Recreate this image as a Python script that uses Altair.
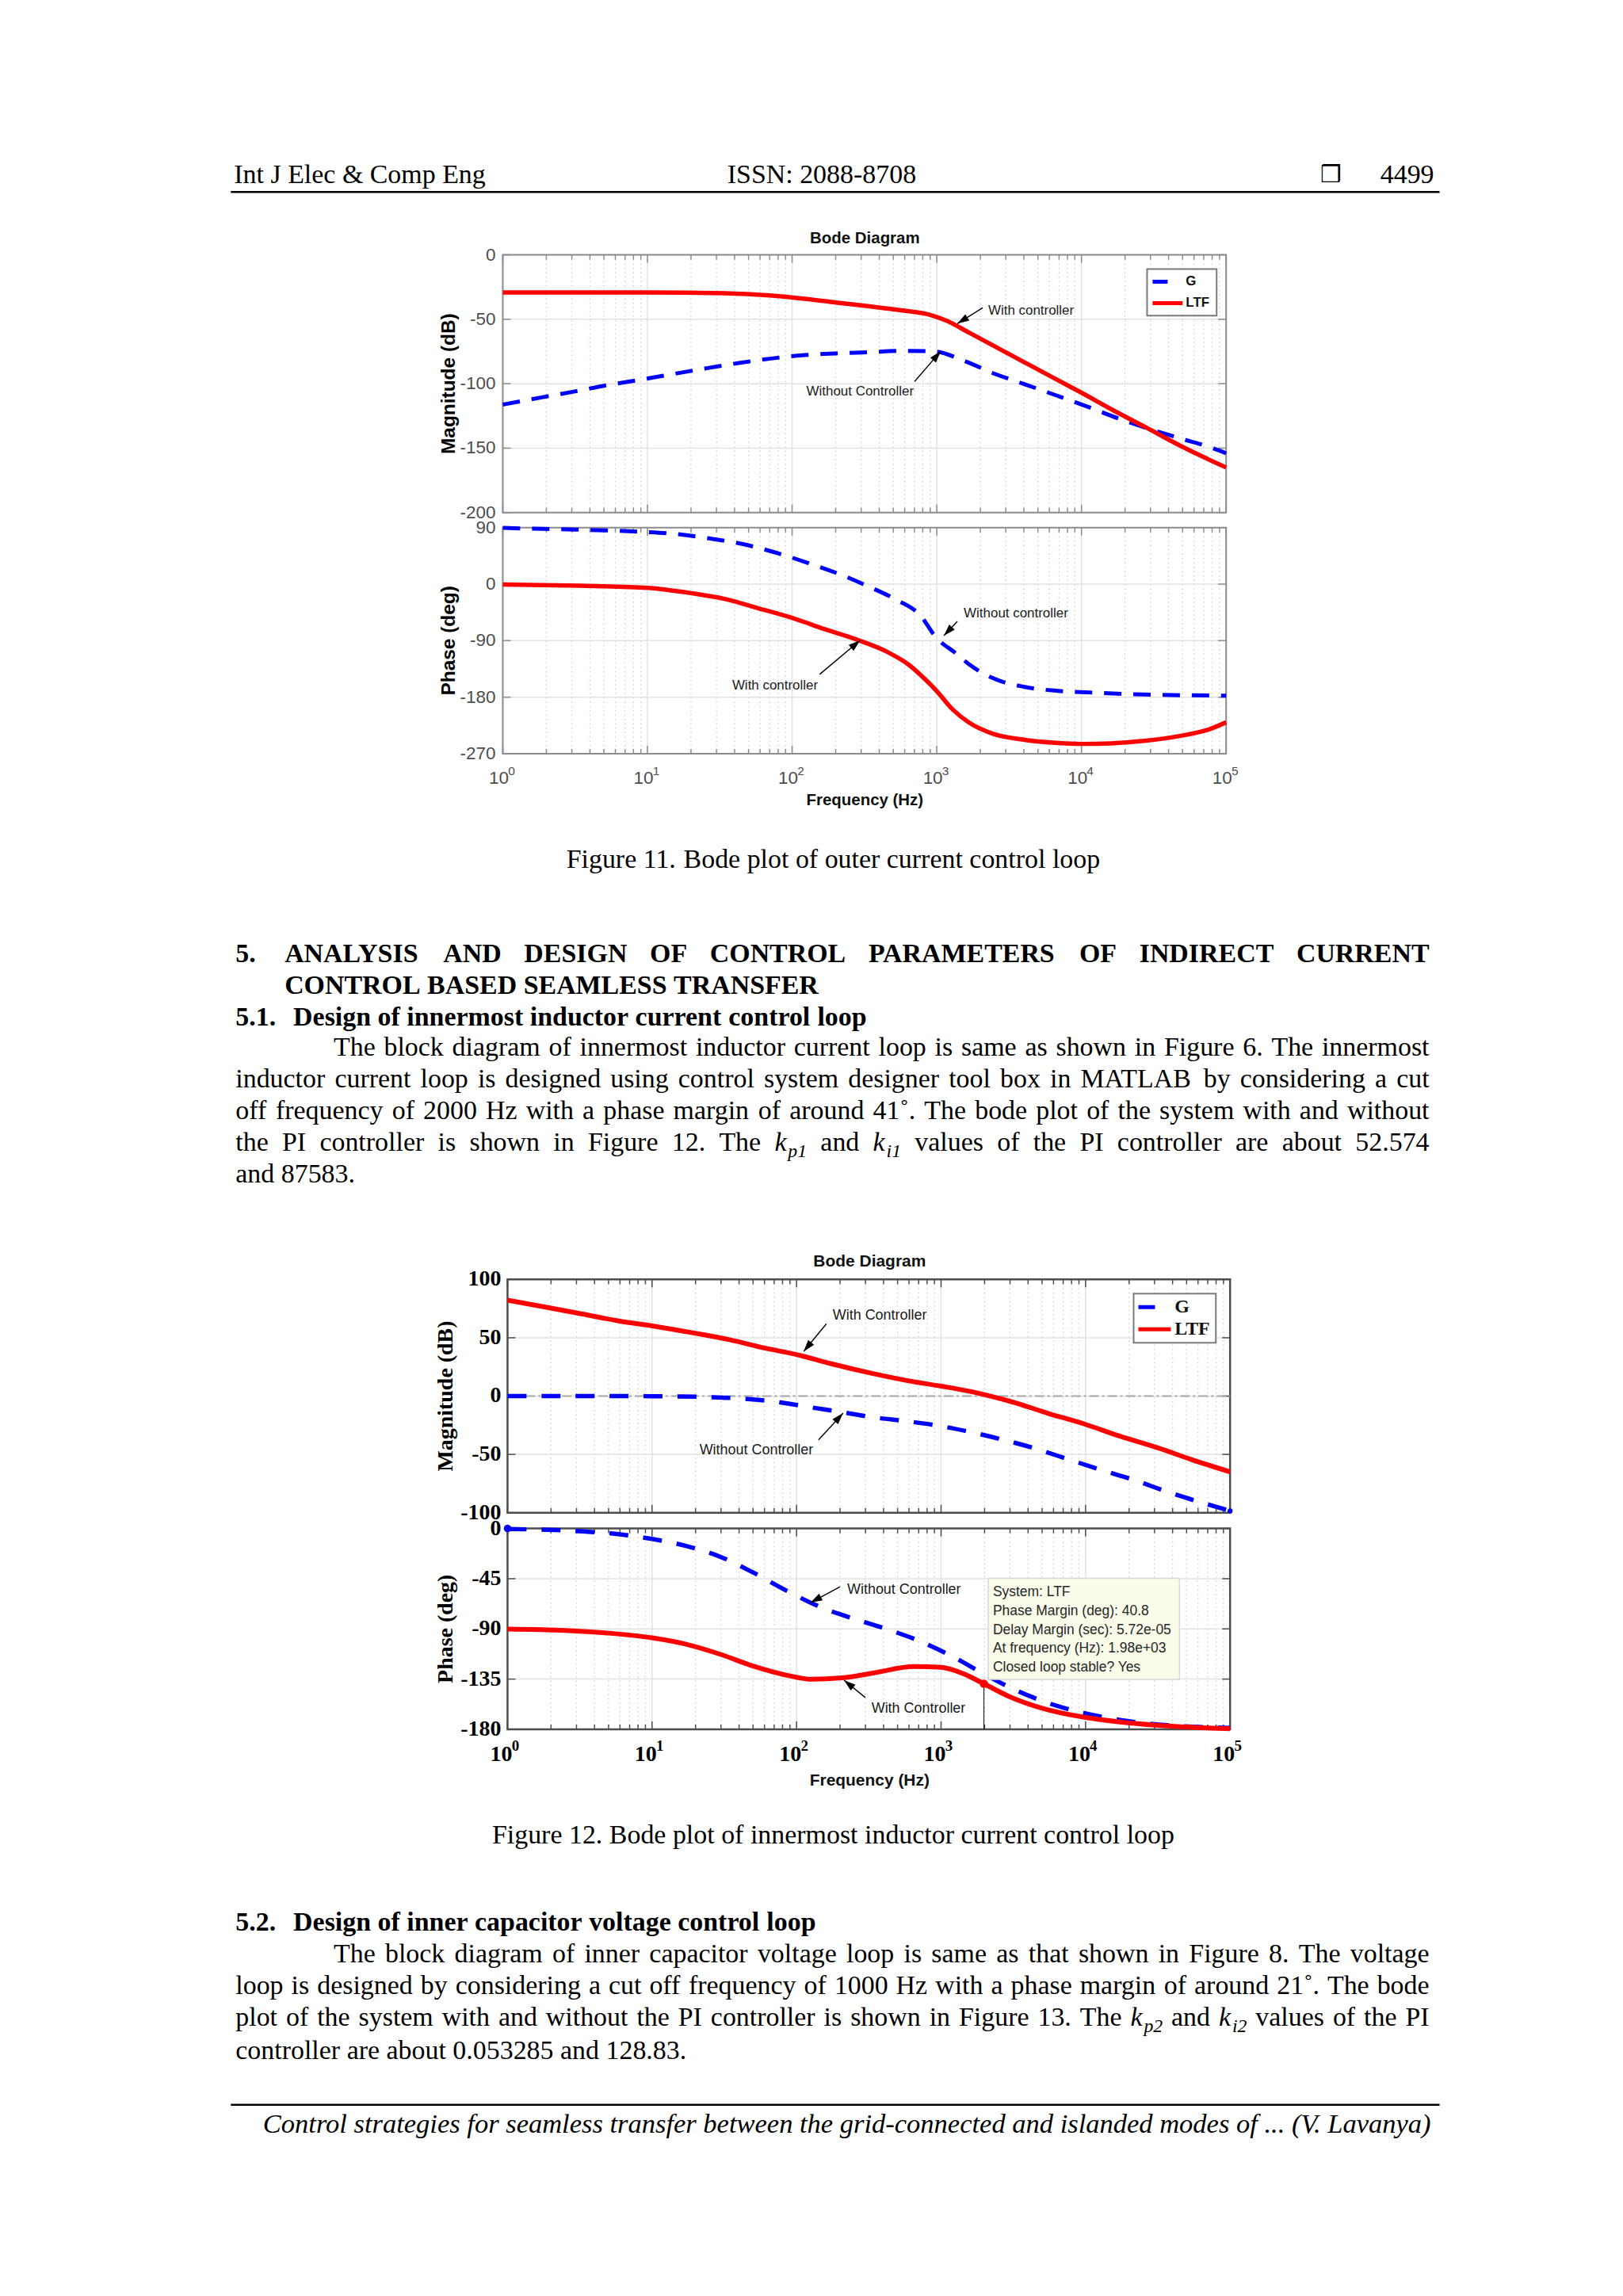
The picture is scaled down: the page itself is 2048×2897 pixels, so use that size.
import math
import altair as alt
import pandas as pd

SERIF = "Liberation Serif"
SANS = "Liberation Sans"

# ---------------- Figure 11 (outer current loop) ----------------
f11_mag_G_f = [1, 1.86, 3.15, 5.1, 8.7, 14.8, 25, 42, 70, 118, 201, 342, 580, 945, 1530, 2500, 4050, 6900, 11000, 18000, 29700, 48000, 81000, 100000]
f11_mag_G_v = [-116.2, -110.6, -106.0, -101.4, -97.1, -92.6, -88.2, -84.1, -80.6, -77.9, -76.5, -75.5, -74.5, -74.9, -82.0, -92.2, -100.4, -109.6, -117.8, -127.0, -135.2, -142.4, -150.0, -154.0]
f11_mag_L_f = [1, 10, 34, 70, 118, 201, 342, 580, 900, 1180, 1680, 2850, 4050, 6900, 10000, 16500, 28000, 48000, 70000, 100000]
f11_mag_L_v = [-29.2, -29.2, -29.8, -31.5, -33.9, -37.0, -40.0, -43.2, -46.6, -51.3, -60.5, -74.3, -83.5, -97.4, -107.0, -120.5, -134.0, -148.0, -157.0, -165.0]
f11_ph_G_f = [1, 1.86, 3.15, 5.4, 9.1, 15.5, 26, 45, 77, 130, 220, 342, 530, 760, 1000, 1340, 1680, 2400, 4050, 6900, 12800, 23000, 100000]
f11_ph_G_v = [89.5, 88.0, 86.9, 85.4, 83.3, 80.0, 73.3, 64.0, 50.2, 33.4, 14.5, -4.4, -25.4, -48.5, -86.2, -109.3, -128.0, -149.0, -163.7, -170.0, -173.0, -175.4, -177.5]
f11_ph_L_f = [1, 3.4, 10, 20, 34, 58, 100, 168, 288, 450, 640, 830, 1000, 1290, 1680, 2400, 4050, 6900, 10000, 16000, 28000, 48000, 76000, 100000]
f11_ph_L_v = [-0.5, -2.5, -5.9, -14.3, -23.5, -38.2, -53.7, -71.8, -89.4, -107.4, -128.4, -151.5, -170.4, -199.8, -220.8, -237.6, -248.0, -253.0, -254.4, -253.5, -249.3, -241.8, -231.3, -220.0]

# ---------------- Figure 12 (innermost inductor current loop) ----------------
f12_mag_L_f = [1, 1.74, 3.24, 6, 10, 19, 35.3, 60, 100, 174, 324, 600, 1000, 1590, 2090, 3240, 5500, 10000, 17300, 32000, 54000, 100000]
f12_mag_L_v = [82.2, 76.8, 70.5, 64.2, 60.2, 54.3, 48.0, 41.2, 35.6, 27.7, 19.8, 13.0, 8.5, 4.0, 0.6, -5.7, -14.8, -24.3, -34.4, -44.6, -54.4, -65.0]
f12_mag_G_f = [1, 10, 24.8, 42, 72, 122, 207, 350, 600, 1000, 1590, 2700, 4600, 7700, 13000, 22300, 38000, 65000, 100000]
f12_mag_G_v = [0.0, -0.1, -0.9, -2.2, -4.9, -9.4, -13.9, -18.4, -21.8, -25.8, -30.8, -37.5, -45.4, -54.5, -63.5, -72.5, -82.7, -91.7, -98.5]
f12_ph_G_f = [1, 1.9, 3.5, 6, 10, 17.4, 29.6, 50, 86, 145, 247, 420, 710, 1210, 1980, 3240, 5500, 10000, 17300, 32000, 100000]
f12_ph_G_v = [-0.5, -1.2, -2.8, -5.2, -9.4, -15.8, -25.3, -39.4, -56.0, -70.2, -80.8, -90.2, -100.9, -115.0, -130.4, -144.6, -156.4, -165.8, -171.7, -175.7, -178.8]
f12_ph_L_f = [1, 2.5, 5, 10, 17.4, 29.6, 50, 86, 127, 207, 350, 650, 1000, 1440, 1980, 2950, 5000, 10000, 17300, 32000, 100000]
f12_ph_L_v = [-90.2, -91.4, -93.8, -98.0, -103.9, -112.7, -123.3, -131.6, -135.1, -133.9, -129.2, -123.8, -124.5, -130.4, -139.2, -150.5, -161.1, -169.4, -173.4, -176.4, -179.5]
pm_freq = 1980
pm_phase = -139.2
datatip_lines = ["System: LTF", "Phase Margin (deg): 40.8", "Delay Margin (sec): 5.72e-05",
                 "At frequency (Hz): 1.98e+03", "Closed loop stable? Yes"]

# annotations: (text, text_f, text_v, align, tail_f, tail_v, tip_f, tip_v)
ann11_mag = [("With controller", 2265, -43.6, "left", 2075, -41.1, 1387, -53.4),
             ("Without Controller", 295, -106.0, "center", 703, -98.2, 1065, -74.8)]
ann11_ph = [("Without controller", 1535, -46.8, "left", 1387, -59.4, 1120, -82.0),
            ("With controller", 38.5, -161.4, "left", 155, -143.7, 295, -89.5)]
ann12_mag = [("With Controller", 178, 68.8, "left", 161, 62.0, 112, 38.3),
             ("Without Controller", 21.3, -46.4, "left", 142, -37.6, 210, -14.6)]
ann12_ph = [("Without Controller", 224, -55.0, "left", 200, -52.2, 125, -66.4),
            ("With Controller", 330, -161.4, "left", 299, -151.5, 213, -136.0)]

mag_ticks11 = [0, -50, -100, -150, -200]
ph_ticks11 = [90, 0, -90, -180, -270]
mag_ticks12 = [100, 50, 0, -50, -100]
ph_ticks12 = [0, -45, -90, -135, -180]
DECADES = [1, 10, 100, 1000, 10000, 100000]
EXPONENTS = ["0", "1", "2", "3", "4", "5"]
MINOR = [m * 10 ** d for d in range(5) for m in range(2, 10)]

# ---------------- page text ----------------
header_left = "Int J Elec & Comp Eng"
header_center = "ISSN: 2088-8708"
header_symbol = "\u2752"
header_page = "4499"
caption11 = "Figure 11. Bode plot of outer current control loop"
heading5_num = "5."
heading5_lines = ["ANALYSIS AND DESIGN OF CONTROL PARAMETERS OF INDIRECT CURRENT",
                  "CONTROL BASED SEAMLESS TRANSFER"]
heading51 = ("5.1.", "Design of innermost inductor current control loop")
para1 = ["The block diagram of innermost inductor current loop is same as shown in Figure 6. The innermost",
         "inductor current loop is designed using control system designer tool box in MATLAB by considering a cut",
         "off frequency of 2000 Hz with a phase margin of around 41\u02da. The bode plot of the system with and without",
         "the PI controller is shown in Figure 12. The {k|p1} and {k|i1} values of the PI controller are about 52.574",
         "and 87583."]
caption12 = "Figure 12. Bode plot of innermost inductor current control loop"
heading52 = ("5.2.", "Design of inner capacitor voltage control loop")
para2 = ["The block diagram of inner capacitor voltage loop is same as that shown in Figure 8. The voltage",
         "loop is designed by considering a cut off frequency of 1000 Hz with a phase margin of around 21\u02da. The bode",
         "plot of the system with and without the PI controller is shown in Figure 13. The {k|p2} and {k|i2} values of the PI",
         "controller are about 0.053285 and 128.83."]
footer = "Control strategies for seamless transfer between the grid-connected and islanded modes of ... (V. Lavanya)"

# Times metrics (Liberation Serif is metric compatible)
TR = dict(zip("abcdefghijklmnopqrstuvwxyz", [444, 500, 444, 500, 444, 333, 500, 500, 278, 278, 500, 278, 778, 500, 500, 500, 500, 333, 389, 278, 500, 500, 722, 500, 500, 444]))
TR.update(zip("ABCDEFGHIJKLMNOPQRSTUVWXYZ", [722, 667, 667, 722, 611, 556, 722, 722, 333, 389, 722, 611, 889, 722, 722, 556, 722, 667, 556, 611, 722, 722, 944, 722, 722, 611]))
TR.update({c: 500 for c in "0123456789"})
TR.update({" ": 250, ".": 250, ",": 250, ":": 278, ";": 278, "-": 333, "(": 333, ")": 333, "&": 778, "\u02da": 333, "?": 444})
TB = dict(zip("abcdefghijklmnopqrstuvwxyz", [500, 556, 444, 556, 444, 333, 500, 556, 278, 333, 556, 278, 833, 556, 500, 556, 556, 444, 389, 333, 556, 500, 722, 500, 500, 444]))
TB.update(zip("ABCDEFGHIJKLMNOPQRSTUVWXYZ", [722, 667, 722, 722, 667, 611, 778, 778, 389, 500, 778, 667, 944, 722, 778, 611, 778, 722, 556, 667, 722, 722, 1000, 722, 722, 667]))
TB.update({c: 500 for c in "0123456789"})
TB.update({" ": 250, ".": 250, ",": 250, ":": 333, "-": 333})

FS = 34.0
K_W = 0.5
SUB = 0.7
rows = {"reg": [], "bold": [], "ital": []}


def add(kind, t, x, y, s):
    rows[kind].append({"t": t, "x": x - 8, "y": y - 8, "s": s})


def tw(tok, table, size):
    if tok.startswith("{"):
        sub = tok[1:-1].split("|")[1]
        return K_W * size + SUB * size * sum(table.get(c, 500) for c in sub) / 1000.0
    return sum(table.get(c, 500) for c in tok) * size / 1000.0


def place(line, x0, x1, y, table, kind, size=FS, justify=True):
    toks = line.split(" ")
    ws = [tw(t, table, size) for t in toks]
    if justify and len(toks) > 1:
        gap = (x1 - x0 - sum(ws)) / (len(toks) - 1)
    else:
        gap = table[" "] * size / 1000.0
    x = x0
    for t, w in zip(toks, ws):
        if t.startswith("{"):
            base, sub = t[1:-1].split("|")
            add("ital", base, x, y, size)
            add("ital", sub, x + K_W * size, y + 0.24 * size, SUB * size)
        else:
            add(kind, t, x, y, size)
        x += w + gap


LEFT, RIGHT, INDENT = 294, 1804, 418
place(header_left, 292, 0, 227, TR, "reg", justify=False)
place(header_center, 916, 0, 227, TR, "reg", justify=False)
place(header_page, 1810 - tw(header_page, TR, FS), 0, 227, TR, "reg", justify=False)
place(caption11, 1050 - tw(caption11, TR, FS) / 2, 0, 1093, TR, "reg", justify=False)
add("bold", heading5_num, LEFT, 1213, FS)
place(heading5_lines[0], 356, RIGHT, 1213, TB, "bold")
place(heading5_lines[1], 356, 0, 1253, TB, "bold", justify=False)
add("bold", heading51[0], LEFT, 1293, FS)
place(heading51[1], 367, 0, 1293, TB, "bold", justify=False)
for i, (ln, y) in enumerate(zip(para1, [1331, 1371, 1411, 1451, 1491])):
    place(ln, INDENT if i == 0 else LEFT, RIGHT, y, TR, "reg", justify=(i < len(para1) - 1))
place(caption12, 1050 - tw(caption12, TR, FS) / 2, 0, 2327, TR, "reg", justify=False)
add("bold", heading52[0], LEFT, 2438, FS)
place(heading52[1], 367, 0, 2438, TB, "bold", justify=False)
for i, (ln, y) in enumerate(zip(para2, [2478, 2518, 2558, 2600])):
    place(ln, INDENT if i == 0 else LEFT, RIGHT, y, TR, "reg", justify=(i < len(para2) - 1))


def tlayer(df, font, weight="normal", style="normal", align="left", color="black"):
    return alt.Chart(df).mark_text(font=font, fontWeight=weight, fontStyle=style, align=align,
                                   baseline="alphabetic", color=color).encode(
        x=alt.X("x:Q", scale=None, axis=None), y=alt.Y("y:Q", scale=None, axis=None),
        text="t:N", size=alt.Size("s:Q", scale=None, legend=None))


rules_df = pd.DataFrame({"x": [280, 280], "x2": [1809, 1809], "y": [230.5, 2650]})
text_chart = alt.layer(
    alt.Chart(rules_df).mark_rule(color="black", strokeWidth=2.5).encode(
        x=alt.X("x:Q", scale=None, axis=None), x2="x2:Q", y=alt.Y("y:Q", scale=None, axis=None)),
    tlayer(pd.DataFrame(rows["reg"]), SERIF),
    tlayer(pd.DataFrame(rows["bold"]), SERIF, weight="bold"),
    tlayer(pd.DataFrame(rows["ital"]), SERIF, style="italic"),
    tlayer(pd.DataFrame([{"t": footer, "x": 1806 - 8, "y": 2693 - 8, "s": 34.6}]), SERIF, style="italic", align="right"),
    tlayer(pd.DataFrame([{"t": header_symbol, "x": 1666 - 8, "y": 226 - 8, "s": 30}]), "DejaVu Sans"),
).properties(width=2032, height=310)

ARROW = "M0,0L-0.42,1.3L0.42,1.3Z"
ONE = pd.DataFrame({"a": [0]})


def bode_panel(off, W, H, ydom, yticks, G, L, st, annots, ytitle, title=None, xlabels=False,
               legend=None, datatip=False, zero_line=False, markers=None):
    """A Bode panel whose plot area spans x = off .. off+W inside a chart of width off+W."""
    xs = alt.Scale(type="log", domain=[1, 100000], nice=False, range=[off, off + W])
    ys = alt.Scale(domain=ydom, nice=False, zero=False)
    X = alt.X("f:Q", scale=xs, axis=None)
    Y = alt.Y("v:Q", scale=ys, axis=None)
    minor_df = pd.DataFrame({"f": MINOR})
    major_df = pd.DataFrame({"f": DECADES, "e": EXPONENTS})
    yt_df = pd.DataFrame({"v": yticks, "lab": [str(v) for v in yticks]})
    fc = st["frame"]
    L0, R0 = off, off + W
    lay = [
        alt.Chart(minor_df).mark_rule(color=st["minor"], strokeWidth=1.3, strokeDash=[1.5, 4]).encode(x=X),
        alt.Chart(major_df).mark_rule(color=st["major"], strokeWidth=1.5).encode(x=X),
        alt.Chart(yt_df).mark_rule(color=st["major"], strokeWidth=1.5).encode(
            y=Y, x=alt.value(L0), x2=alt.value(R0)),
        alt.Chart(minor_df).mark_rule(color=fc, strokeWidth=1.5).encode(x=X, y=alt.value(0), y2=alt.value(6)),
        alt.Chart(minor_df).mark_rule(color=fc, strokeWidth=1.5).encode(x=X, y=alt.value(H), y2=alt.value(H - 6)),
        alt.Chart(major_df).mark_rule(color=fc, strokeWidth=1.5).encode(x=X, y=alt.value(0), y2=alt.value(10)),
        alt.Chart(major_df).mark_rule(color=fc, strokeWidth=1.5).encode(x=X, y=alt.value(H), y2=alt.value(H - 10)),
        alt.Chart(yt_df).mark_rule(color=fc, strokeWidth=1.5).encode(y=Y, x=alt.value(L0), x2=alt.value(L0 + 10)),
        alt.Chart(yt_df).mark_rule(color=fc, strokeWidth=1.5).encode(y=Y, x=alt.value(R0), x2=alt.value(R0 - 10)),
        alt.Chart(ONE).mark_rect(fillOpacity=0, stroke=fc, strokeWidth=st["fw"]).encode(
            x=alt.value(L0), x2=alt.value(R0), y=alt.value(0), y2=alt.value(H)),
    ]
    if zero_line:
        lay.append(alt.Chart(pd.DataFrame({"v": [0]})).mark_rule(
            color="#a8a8a8", strokeWidth=2, strokeDash=[12, 4, 3, 4]).encode(y=Y, x=alt.value(L0), x2=alt.value(R0)))
    lay.append(alt.Chart(pd.DataFrame({"f": G[0], "v": G[1]})).mark_line(
        color="#0000ff", strokeWidth=st["lw"], strokeDash=st["dash"], interpolate="monotone").encode(x=X, y=Y))
    lay.append(alt.Chart(pd.DataFrame({"f": L[0], "v": L[1]})).mark_line(
        color="#ff0000", strokeWidth=st["lw"] + 0.5, interpolate="monotone").encode(x=X, y=Y))
    if markers:
        for (mf, mv, col, sz) in markers:
            lay.append(alt.Chart(pd.DataFrame({"f": [mf], "v": [mv]})).mark_point(
                filled=True, color=col, size=sz, opacity=1).encode(x=X, y=Y))
    if datatip:
        lay.append(alt.Chart(pd.DataFrame({"f": [pm_freq], "v": [pm_phase], "v2": [ydom[0]]})).mark_rule(
            color="black", strokeWidth=1).encode(x=X, y=Y, y2="v2:Q"))
        lay.append(alt.Chart(pd.DataFrame({"f": [pm_freq], "v": [pm_phase]})).mark_point(
            filled=True, color="#ff0000", size=110, opacity=1).encode(x=X, y=Y))
    # y labels and title
    lay.append(alt.Chart(yt_df).mark_text(align="right", baseline="middle", font=st["tfont"], fontSize=st["tsize"],
                                          fontWeight=st["tweight"], color=st["tcolor"]).encode(
        x=alt.value(L0 + st["ylab_x"]), y=Y, text="lab:N"))
    lay.append(alt.Chart(ONE).mark_text(angle=270, align="center", baseline="middle", font=st["yt_font"],
                                        fontSize=st["yt_size"], fontWeight="bold", color="black").encode(
        x=alt.value(L0 + st["yt_x"]), y=alt.value(H / 2), text=alt.value(ytitle)))
    # annotations with arrows
    arows, trows = [], []
    for (t, tf, tv, al, f1, v1, f2, v2) in annots:
        x1, y1 = math.log10(f1) / 5 * W, (ydom[1] - v1) / (ydom[1] - ydom[0]) * H
        x2, y2 = math.log10(f2) / 5 * W, (ydom[1] - v2) / (ydom[1] - ydom[0]) * H
        ang = math.degrees(math.atan2(x2 - x1, -(y2 - y1))) % 360
        arows.append({"f": f1, "v": v1, "f2": f2, "v2": v2, "ang": ang})
        trows.append({"f": tf, "v": tv, "t": t, "al": al})
    adf = pd.DataFrame(arows)
    lay.append(alt.Chart(adf).mark_rule(color="black", strokeWidth=1.4).encode(
        x=X, y=Y, x2=alt.X2("f2:Q"), y2=alt.Y2("v2:Q")))
    lay.append(alt.Chart(adf).mark_point(shape=ARROW, filled=True, color="black", size=520, opacity=1).encode(
        x=alt.X("f2:Q", scale=xs, axis=None), y=alt.Y("v2:Q", scale=ys, axis=None),
        angle=alt.Angle("ang:Q", scale=None)))
    for al in ["left", "center"]:
        sub = [r for r in trows if r["al"] == al]
        if sub:
            lay.append(alt.Chart(pd.DataFrame(sub)).mark_text(
                align=al, baseline="middle", font=SANS, fontSize=st["asize"], color="#1a1a1a").encode(
                x=X, y=Y, text="t:N"))
    if title:
        lay.append(alt.Chart(ONE).mark_text(font=SANS, fontWeight="bold", fontSize=st["title_size"],
                                            baseline="middle", color="#111").encode(
            x=alt.value(L0 + st["title_x"]), y=alt.value(st["title_y"]), text=alt.value(title)))
    if xlabels:
        lay.append(alt.Chart(major_df).mark_text(font=st["tfont"], fontSize=st["tsize"], fontWeight=st["tweight"],
                                                 color=st["tcolor"], baseline="middle", align="center",
                                                 dx=st["ten_dx"]).encode(
            x=X, y=alt.value(H + st["ten_dy"]), text=alt.value("10")))
        lay.append(alt.Chart(major_df).mark_text(font=st["tfont"], fontSize=st["sup_size"], fontWeight=st["tweight"],
                                                 color=st["tcolor"], baseline="middle", align="center",
                                                 dx=st["sup_dx"]).encode(
            x=X, y=alt.value(H + st["sup_dy"]), text="e:N"))
        lay.append(alt.Chart(ONE).mark_text(font=SANS, fontWeight="bold", fontSize=st["title_size"],
                                            baseline="middle", color="#111").encode(
            x=alt.value(L0 + st["title_x"]), y=alt.value(H + st["xt_dy"]), text=alt.value("Frequency  (Hz)")))
    if legend:
        (bx0, by0, bx1, by1, gl, ll, lx, gy, ly, lfont, lsize) = legend
        lay.append(alt.Chart(ONE).mark_rect(fill="white", stroke="#7a7a7a", strokeWidth=2).encode(
            x=alt.value(L0 + bx0), x2=alt.value(L0 + bx1), y=alt.value(by0), y2=alt.value(by1)))
        lay.append(alt.Chart(ONE).mark_rule(color="#0000ff", strokeWidth=5).encode(
            x=alt.value(L0 + gl[0]), x2=alt.value(L0 + gl[1]), y=alt.value(gy)))
        lay.append(alt.Chart(ONE).mark_rule(color="#ff0000", strokeWidth=5).encode(
            x=alt.value(L0 + ll[0]), x2=alt.value(L0 + ll[1]), y=alt.value(ly)))
        lay.append(alt.Chart(pd.DataFrame({"t": ["G", "LTF"], "yy": [gy, ly]})).mark_text(
            font=lfont, fontWeight="bold", fontSize=lsize, align="left", baseline="middle", color="#111").encode(
            x=alt.value(L0 + lx), y=alt.Y("yy:Q", scale=None, axis=None), text="t:N"))
    if datatip:
        lay.append(alt.Chart(ONE).mark_rect(fill="#fbfbea", stroke="#d8d8d8", strokeWidth=1.5).encode(
            x=alt.value(L0 + 608), x2=alt.value(L0 + 850), y=alt.value(63), y2=alt.value(191)))
        lay.append(alt.Chart(pd.DataFrame({"t": datatip_lines, "yy": [81, 105, 129, 152, 176]})).mark_text(
            font=SANS, fontSize=17.5, align="left", baseline="middle", color="#262626").encode(
            x=alt.value(L0 + 614), y=alt.Y("yy:Q", scale=None, axis=None), text="t:N"))
    return alt.layer(*lay).properties(width=off + W, height=H)


st11 = dict(frame="#8c8c8c", fw=2, minor="#cdcdcd", major="#e2e2e2", lw=5, dash=[22, 15],
            tfont=SANS, tsize=22.5, tweight="normal", tcolor="#4d4d4d", ylab_x=-9,
            yt_font=SANS, yt_size=24.5, yt_x=-68, asize=17, title_size=20.5, title_x=458, title_y=-21,
            ten_dx=-5, ten_dy=31, sup_dx=11, sup_dy=22, sup_size=15.5, xt_dy=59)
st12 = dict(frame="#4d4d4d", fw=2.5, minor="#cdcdcd", major="#e2e2e2", lw=5.5, dash=[24, 19],
            tfont=SERIF, tsize=28, tweight="bold", tcolor="black", ylab_x=-8,
            yt_font=SERIF, yt_size=28, yt_x=-78, asize=18, title_size=21, title_x=458, title_y=-22,
            ten_dx=-8, ten_dy=32, sup_dx=10, sup_dy=21, sup_size=19, xt_dy=65)

W11, W12 = 915, 914
OFF11, OFF12 = 624, 630
mag11 = bode_panel(OFF11, W11, 326, [-200, 0], mag_ticks11, (f11_mag_G_f, f11_mag_G_v), (f11_mag_L_f, f11_mag_L_v),
                   st11, ann11_mag, "Magnitude (dB)", title="Bode Diagram",
                   legend=(815, 18, 903, 77, (822, 841), (822, 860), 864, 34, 61, SANS, 17))
ph11 = bode_panel(OFF11, W11, 286, [-270, 90], ph_ticks11, (f11_ph_G_f, f11_ph_G_v), (f11_ph_L_f, f11_ph_L_v),
                  st11, ann11_ph, "Phase (deg)", xlabels=True)
mag12 = bode_panel(OFF12, W12, 295, [-100, 100], mag_ticks12, (f12_mag_G_f, f12_mag_G_v), (f12_mag_L_f, f12_mag_L_v),
                   st12, ann12_mag, "Magnitude (dB)", title="Bode Diagram", zero_line=True,
                   legend=(792, 18, 896, 80, (798, 819), (798, 839), 844, 35, 63, SERIF, 24),
                   markers=[(100000, -98.5, "#0000ff", 40)])
ph12 = bode_panel(OFF12, W12, 254, [-180, 0], ph_ticks12, (f12_ph_G_f, f12_ph_G_v), (f12_ph_L_f, f12_ph_L_v),
                  st12, ann12_ph, "Phase (deg)", xlabels=True, datatip=True,
                  markers=[(1, 0, "#0000ff", 90)])


def spacer(h):
    return alt.Chart(ONE).mark_point(opacity=0).encode(x=alt.value(0), y=alt.value(0)).properties(width=10, height=h)


chart = alt.vconcat(
    text_chart,
    mag11,
    spacer(19),
    ph11,
    spacer(665),
    mag12,
    spacer(20),
    ph12,
    spacing=0, bounds="flush",
).properties(padding=0).configure_view(stroke="transparent")

chart.save("out.html", embed_options={"renderer": "svg", "actions": False})
